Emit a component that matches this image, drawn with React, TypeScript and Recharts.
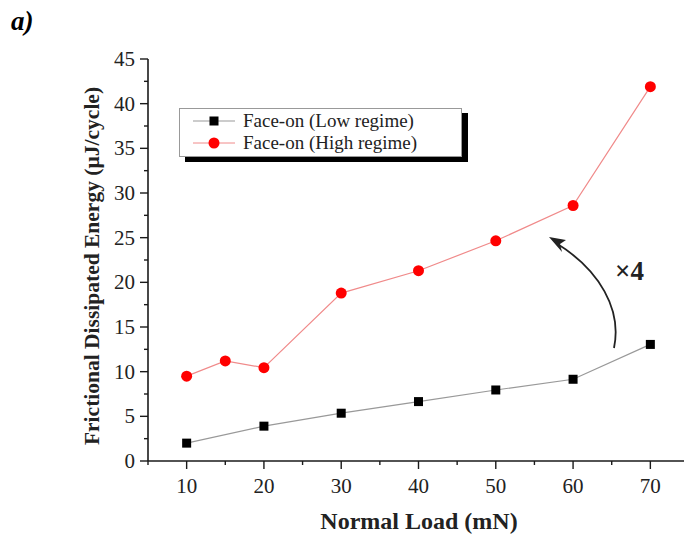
import { LineChart, Line, XAxis, YAxis, Legend } from 'recharts';

// normal load (mN) and frictional dissipated energy (µJ/cycle)
const loadsLow = [10, 20, 30, 40, 50, 60, 70];
const energyLow = [2.0, 3.9, 5.35, 6.65, 7.95, 9.15, 13.05];
const loadsHigh = [10, 15, 20, 30, 40, 50, 60, 70];
const energyHigh = [9.5, 11.2, 10.45, 18.8, 21.3, 24.65, 28.6, 41.9];

const xTicks = [5, 10, 15, 20, 25, 30, 35, 40, 45, 50, 55, 60, 65, 70, 75];
const yTicks = [0, 2.5, 5, 7.5, 10, 12.5, 15, 17.5, 20, 22.5, 25, 27.5, 30, 32.5, 35, 37.5, 40, 42.5, 45];

const seriesNames = ['Face-on (Low regime)', 'Face-on (High regime)'];

const loads = Array.from(new Set([...loadsLow, ...loadsHigh])).sort((a, b) => a - b);
const rows = loads.map((load) => {
  const li = loadsLow.indexOf(load);
  const hi = loadsHigh.indexOf(load);
  return {
    load,
    low: li >= 0 ? energyLow[li] : null,
    high: hi >= 0 ? energyHigh[hi] : null,
  };
});

const FONT = '"Liberation Serif", serif';
const AXIS = '#1a1a1a';

function SquareDot(props: any) {
  const { cx, cy } = props;
  if (cx == null || cy == null) return <g />;
  return <rect x={cx - 4.5} y={cy - 4.5} width={9} height={9} fill="#000" />;
}

function RoundDot(props: any) {
  const { cx, cy } = props;
  if (cx == null || cy == null) return <g />;
  return <circle cx={cx} cy={cy} r={5.5} fill="#f00" />;
}

function XTick(props: any) {
  const { x, y, payload } = props;
  const major = payload.value % 10 === 0;
  return (
    <g>
      <line x1={x} x2={x} y1={y} y2={y + (major ? 8 : 4)} stroke={AXIS} strokeWidth={1.4} />
      {major && (
        <text x={x} y={y + 32} textAnchor="middle" fontFamily={FONT} fontSize={21} fill="#222">
          {payload.value}
        </text>
      )}
    </g>
  );
}

function YTick(props: any) {
  const { x, y, payload } = props;
  const major = payload.value % 5 === 0;
  return (
    <g>
      <line x1={x} x2={x - (major ? 8 : 4)} y1={y} y2={y} stroke={AXIS} strokeWidth={1.4} />
      {major && (
        <text x={x - 13} y={y + 7} textAnchor="end" fontFamily={FONT} fontSize={21} fill="#222">
          {payload.value}
        </text>
      )}
    </g>
  );
}

function LegendBox() {
  const row = (color: string, marker: JSX.Element, name: string) => (
    <div style={{ display: 'flex', alignItems: 'center', height: 22 }}>
      <svg width={46} height={14} style={{ marginRight: 5 }}>
        <line x1={1} x2={43} y1={7} y2={7} stroke={color} strokeWidth={1} />
        {marker}
      </svg>
      <span>{name}</span>
    </div>
  );
  return (
    <div
      style={{
        width: 269,
        height: 44,
        padding: '1px 0 2px 12px',
        border: '1px solid #999',
        background: '#fff',
        boxShadow: '6px 5px 0 #000',
        fontFamily: FONT,
        fontSize: 19,
        color: '#222',
        lineHeight: '22px',
        boxSizing: 'content-box',
        whiteSpace: 'nowrap',
      }}
    >
      {row('#999', <rect x={17.5} y={2.5} width={9} height={9} fill="#000" />, seriesNames[0])}
      {row('#f08a8a', <circle cx={22} cy={7} r={5.5} fill="#f00" />, seriesNames[1])}
    </div>
  );
}

export default function App() {
  return (
    <div style={{ position: 'fixed', left: 0, top: 0, width: 684, height: 539, overflow: 'hidden', background: '#fff' }}>
      <div
        style={{
          position: 'absolute',
          left: 11,
          top: 6,
          fontFamily: FONT,
          fontSize: 27,
          fontWeight: 'bold',
          fontStyle: 'italic',
        }}
      >
        a)
      </div>
      <LineChart width={720} height={539} data={rows} margin={{ top: 59, right: 31, bottom: 0, left: 0 }}>
        <XAxis
          dataKey="load"
          type="number"
          domain={[5, 75]}
          ticks={xTicks}
          interval={0}
          allowDataOverflow
          tick={<XTick />}
          tickSize={0}
          tickMargin={0}
          tickLine={false}
          axisLine={{ stroke: AXIS, strokeWidth: 1.6 }}
          height={78}
          label={{
            content: () => (
              <text x={419} y={529} textAnchor="middle" fontFamily={FONT} fontSize={24} fontWeight="bold" fill="#222">
                Normal Load (mN)
              </text>
            ),
          }}
        />
        <YAxis
          type="number"
          domain={[0, 45]}
          ticks={yTicks}
          interval={0}
          tick={<YTick />}
          tickSize={0}
          tickMargin={0}
          tickLine={false}
          axisLine={{ stroke: AXIS, strokeWidth: 1.6 }}
          width={148}
          label={{
            content: () => (
              <text
                x={99}
                y={266}
                transform="rotate(-90 99 266)"
                textAnchor="middle"
                fontFamily={FONT}
                fontSize={21.5}
                fontWeight="bold"
                fill="#222"
              >
                Frictional Dissipated Energy (µJ/cycle)
              </text>
            ),
          }}
        />
        <Legend
          layout="horizontal"
          verticalAlign="middle"
          align="center"
          wrapperStyle={{ position: 'absolute', left: 179, top: 108, width: 'auto', height: 'auto' }}
          content={() => <LegendBox />}
        />
        <Line
          dataKey="low"
          name={seriesNames[0]}
          stroke="#999"
          strokeWidth={1.2}
          connectNulls
          dot={<SquareDot />}
          activeDot={false}
          isAnimationActive={false}
        />
        <Line
          dataKey="high"
          name={seriesNames[1]}
          stroke="#f08a8a"
          strokeWidth={1.2}
          connectNulls
          dot={<RoundDot />}
          activeDot={false}
          isAnimationActive={false}
        />
      </LineChart>
      <svg width={684} height={539} style={{ position: 'absolute', left: 0, top: 0, pointerEvents: 'none' }}>
        <path d="M614,348 C622,310 600,270 556,243" fill="none" stroke="#222" strokeWidth={1.8} />
        <path d="M549,237 L566,240 L560,244 L562,252 Z" fill="#222" />
        <text x={615} y={280} fontFamily={FONT} fontSize={27} fontWeight="bold" fill="#222">
          ×4
        </text>
      </svg>
    </div>
  );
}
